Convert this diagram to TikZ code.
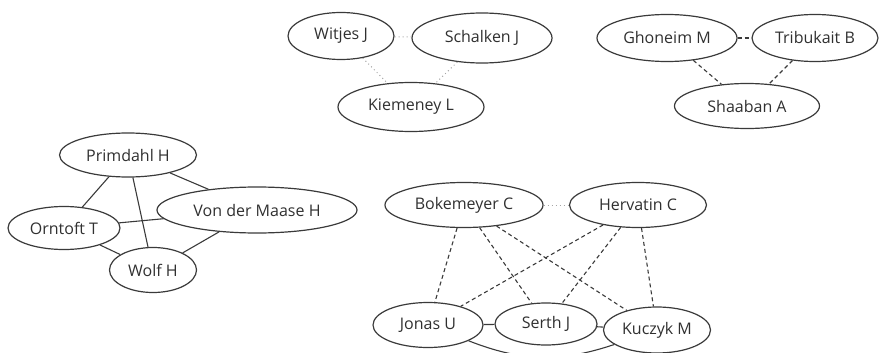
\documentclass[tikz,border=0pt]{standalone}
\usepackage{fontspec}
\setmainfont{Open Sans}
\usetikzlibrary{shapes}
\usepackage{xcolor}
\definecolor{edgegray}{HTML}{3A3A3A}
\definecolor{textgray}{HTML}{303030}

\tikzset{
    author/.style={
        ellipse,
        draw=edgegray,
        line width=1.2pt,
        inner sep=0pt,
        text=textgray,
        font=\fontsize{16}{19}\selectfont
    },
    coauth/.style={-, edgegray, line width=1.1pt},
    weakauth/.style={-, edgegray, line width=1.1pt, dash pattern=on 4pt off 3pt},
    rareauth/.style={-, gray!70, line width=1pt, dash pattern=on 1pt off 3pt}
}

\begin{document}
\begin{tikzpicture}[x=1pt, y=-1pt]
        \useasboundingbox (0,0) rectangle (881,353);

        \node (1) [author, minimum width=106, minimum height=47] at (341,36) {Witjes J};
        \node (2) [author, minimum width=140, minimum height=50] at (482,38) {Schalken J};
        \node (3) [author, minimum width=146, minimum height=49] at (411,107) {Kiemeney L};

        \node (4) [author, minimum width=140, minimum height=47] at (667,38) {Ghoneim M};
        \node (5) [author, minimum width=126, minimum height=47] at (815,38) {Tribukait B};
        \node (6) [author, minimum width=145, minimum height=45] at (747,106) {Shaaban A};

        \node (7) [author, minimum width=137, minimum height=44] at (128,155) {Primdahl H};
        \node (8) [author, minimum width=112, minimum height=43] at (64,228) {Orntoft T};
        \node (9) [author, minimum width=200, minimum height=46] at (257,210) {Von der Maase H};
        \node (10) [author, minimum width=87, minimum height=45] at (153,270) {Wolf H};

        \node (11) [author, minimum width=158, minimum height=45] at (464,205) {Bokemeyer C};
        \node (12) [author, minimum width=137, minimum height=45] at (638,205) {Hervatin C};
        \node (13) [author, minimum width=110, minimum height=45] at (428,325) {Jonas U};
        \node (14) [author, minimum width=102, minimum height=42] at (546,324) {Serth J};
        \node (15) [author, minimum width=107, minimum height=46] at (657,330) {Kuczyk M};

        \draw[rareauth] (1) -- (2);
        \draw[rareauth] (1) -- (3);
        \draw[rareauth] (2) -- (3);

        \draw[weakauth] (4) -- (5);
        \draw[weakauth] (4) -- (6);
        \draw[weakauth] (5) -- (6);

        \draw[coauth] (7) -- (8);
        \draw[coauth] (7) -- (9);
        \draw[coauth] (7) -- (10);
        \draw[coauth] (8) -- (9);
        \draw[coauth] (8) -- (10);
        \draw[coauth] (9) -- (10);

        \draw[rareauth] (11) -- (12);
        \draw[weakauth] (11) -- (13);
        \draw[weakauth] (11) -- (14);
        \draw[weakauth] (11) -- (15);
        \draw[weakauth] (12) -- (13);
        \draw[weakauth] (12) -- (14);
        \draw[weakauth] (12) -- (15);
        \draw[coauth] (13) -- (14);
        \draw[coauth] (14) -- (15);
        \draw[coauth, bend right=20] (13) to (15);
    \end{tikzpicture}
\end{document}
